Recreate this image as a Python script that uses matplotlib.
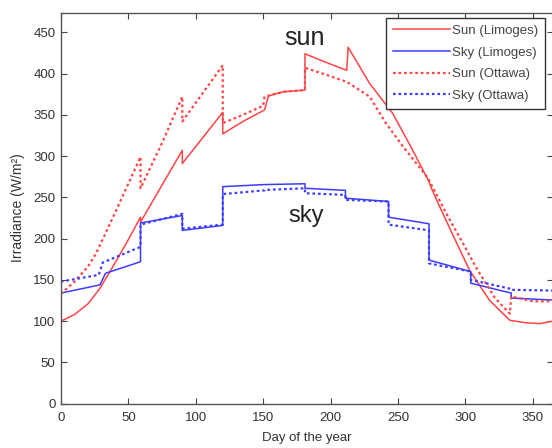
import numpy as np
import matplotlib
matplotlib.use("Agg")
import matplotlib.pyplot as plt

# ---------------- DADOS ----------------

# Sol direto, Limoges (linha cheia vermelha)
sun_lim_day = [0, 10, 20, 29, 37, 48, 59, 59, 75, 90, 90, 105, 120, 120, 135, 151,
               154, 165, 181, 181, 196, 212, 213, 229, 246, 260, 273, 274, 280,
               292, 303, 318, 333, 345, 355, 365]
sun_lim_val = [100, 108, 121, 140, 162, 193, 226, 220, 265, 307, 291, 322, 353, 327, 342, 356,
               373, 378, 380, 424, 414, 404, 432, 388, 352, 310, 269, 264, 242,
               200, 162, 125, 101, 98, 97, 100]

# Ceu difuso, Limoges (linha cheia azul)
sky_lim_day = [0, 29, 33, 59, 59, 90, 90, 120, 120, 151, 151, 181, 181, 211, 211, 243,
               243, 273, 273, 304, 304, 334, 334, 365]
sky_lim_val = [134, 144, 158, 172, 219, 228, 210, 216, 263, 265.5, 265.5, 266.5, 261, 258.5, 249, 245,
               226, 218, 174, 160, 146, 134, 128, 125.5]

# Sol direto, Ottawa (pontilhado vermelho)
sun_ott_day = [0, 10, 20, 26, 40, 59, 59, 75, 90, 90, 105, 120, 120, 135, 150, 151,
               165, 181, 181, 196, 212, 229, 241, 254, 271, 273, 286, 298, 309,
               322, 333, 334, 350, 365]
sun_ott_val = [133, 148, 166, 182, 231, 299, 261, 316, 372, 342, 376, 410, 340, 350, 361, 372,
               378, 380, 407, 399, 390, 372, 340, 311, 276, 271, 230, 195, 162,
               128, 109, 130, 124, 124]

# Ceu difuso, Ottawa (pontilhado azul)
sky_ott_day = [0, 28, 31, 59, 59, 90, 90, 120, 120, 151, 151, 181, 181, 211, 211, 243,
               243, 273, 273, 304, 304, 334, 334, 365]
sky_ott_val = [148, 156, 171, 190, 217, 230, 212, 217, 254, 258.5, 259, 261, 255, 253, 247, 245,
               217, 210, 170, 160, 150, 139, 138, 137]

legendas = ["Sun (Limoges)", "Sky (Limoges)", "Sun (Ottawa)", "Sky (Ottawa)"]

# ---------------- PLOTANDO ----------------

plt.rcParams['font.family'] = ['Liberation Sans', 'DejaVu Sans']

vermelho = '#ff4545'
azul = '#3c3cff'
pontilhado = (0, (1.2, 1.3))

fig = plt.figure(figsize=(5.52, 4.48), dpi=100)
ax = fig.add_axes([0.1105, 0.099, 0.8913, 0.873])

ax.plot(sun_lim_day, sun_lim_val, color=vermelho, lw=1.1, label=legendas[0])
ax.plot(sky_lim_day, sky_lim_val, color=azul, lw=1.1, label=legendas[1])
ax.plot(sun_ott_day, sun_ott_val, color=vermelho, lw=1.6, ls=pontilhado, label=legendas[2])
ax.plot(sky_ott_day, sky_ott_val, color=azul, lw=1.6, ls=pontilhado, label=legendas[3])

ax.text(181, 443, "sun", fontsize=18, ha='center', va='center', color='#222222')
ax.text(182, 227, "sky", fontsize=17, ha='center', va='center', color='#222222')

ax.set_xlim(0, 365)
ax.set_ylim(0, 474)
ax.set_xticks(np.arange(0, 351, 50))
ax.set_yticks(np.arange(0, 451, 50))
ax.tick_params(direction='in', top=True, right=True, length=4, width=0.8,
               colors='#444444', labelsize=9.5, labelcolor='#333333')
ax.tick_params(axis='x', pad=6)
ax.tick_params(axis='y', pad=4)
for s in ax.spines.values():
    s.set_color('#555555')
    s.set_linewidth(1.0)

ax.set_xlabel("Day of the year", fontsize=9.5, color='#333333', labelpad=6)
ax.set_ylabel("Irradiance (W/m²)", fontsize=10, color='#333333', labelpad=6)

leg = ax.legend(loc='upper right', bbox_to_anchor=(0.984, 0.986), borderaxespad=0,
                fontsize=9.5, handlelength=4.3, handletextpad=0.2, labelspacing=0.72,
                fancybox=False, framealpha=1, edgecolor='#333333', borderpad=0.5)
for t in leg.get_texts():
    t.set_color('#444444')

fig.savefig("out.png", dpi=100)
